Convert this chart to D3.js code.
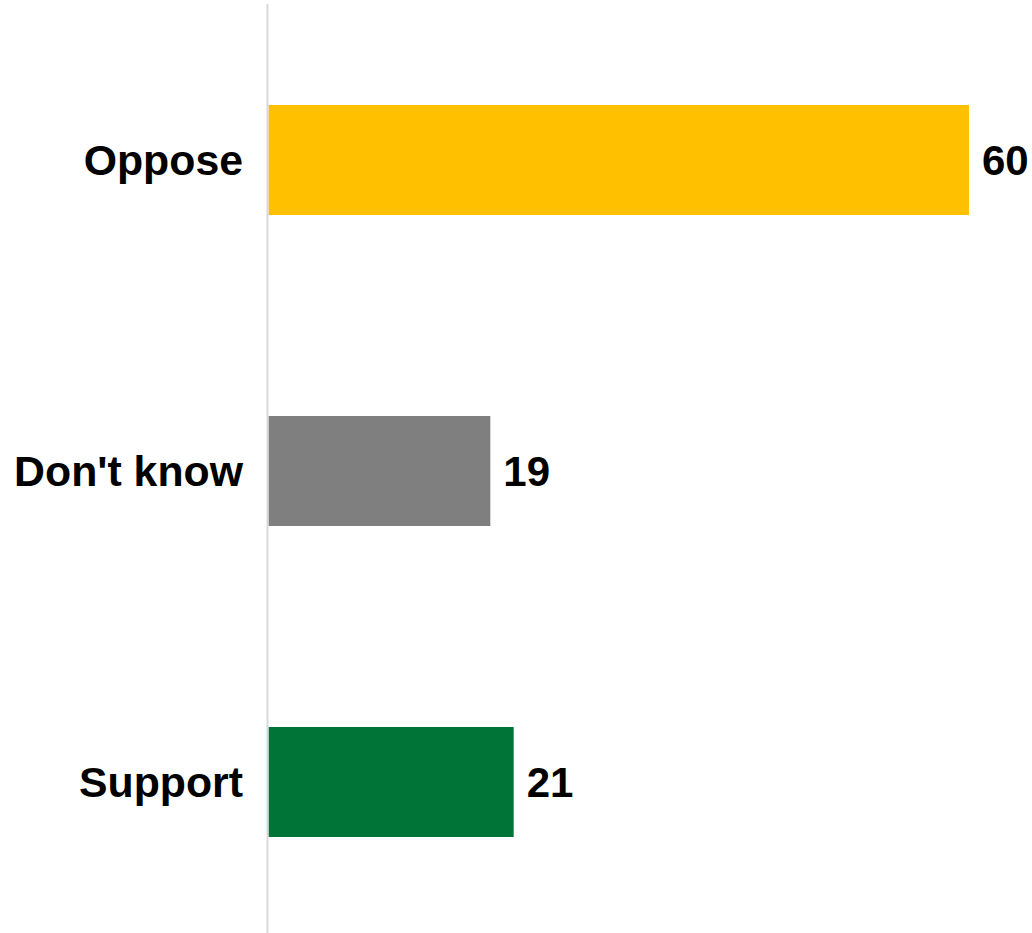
<!DOCTYPE html>
<html>
<head>
<meta charset="utf-8">
<script src="https://cdn.jsdelivr.net/npm/d3@7"></script>
<style>
  html, body { margin: 0; padding: 0; background: #fff; }
  svg { display: block; }
</style>
</head>
<body>
<script>
const categories = ["Oppose", "Don't know", "Support"];
const values = [60, 19, 21];
const colors = ["#FFC000", "#7F7F7F", "#007437"];

const W = 1032, H = 933;
const svg = d3.select("body").append("svg").attr("width", W).attr("height", H);

const x = d3.scaleLinear().domain([0, 60]).range([268.5, 969]);
const y = d3.scaleBand().domain(categories).range([4.5, 937.5])
  .paddingInner(0.6463).paddingOuter(0.3232);

svg.selectAll("rect.bar").data(categories).join("rect")
  .attr("class", "bar")
  .attr("x", x(0))
  .attr("y", d => y(d))
  .attr("width", (d, i) => x(values[i]) - x(0))
  .attr("height", y.bandwidth())
  .attr("fill", (d, i) => colors[i]);

svg.append("line")
  .attr("x1", 267.5).attr("x2", 267.5)
  .attr("y1", 4).attr("y2", H)
  .attr("stroke", "#d9d9d9").attr("stroke-width", 2);

svg.selectAll("text.cat").data(categories).join("text")
  .attr("class", "cat")
  .attr("x", 243)
  .attr("y", d => y(d) + y.bandwidth() / 2)
  .attr("dy", "0.35em")
  .attr("text-anchor", "end")
  .attr("font-family", "Liberation Sans, Arial, sans-serif")
  .attr("font-weight", "bold")
  .attr("font-size", 42.8)
  .attr("fill", "#000")
  .text(d => d);

svg.selectAll("text.val").data(categories).join("text")
  .attr("class", "val")
  .attr("x", (d, i) => x(values[i]) + 13)
  .attr("y", d => y(d) + y.bandwidth() / 2)
  .attr("dy", "0.35em")
  .attr("font-family", "Liberation Sans, Arial, sans-serif")
  .attr("font-weight", "bold")
  .attr("font-size", 42)
  .attr("fill", "#000")
  .text((d, i) => values[i]);
</script>
</body>
</html>
